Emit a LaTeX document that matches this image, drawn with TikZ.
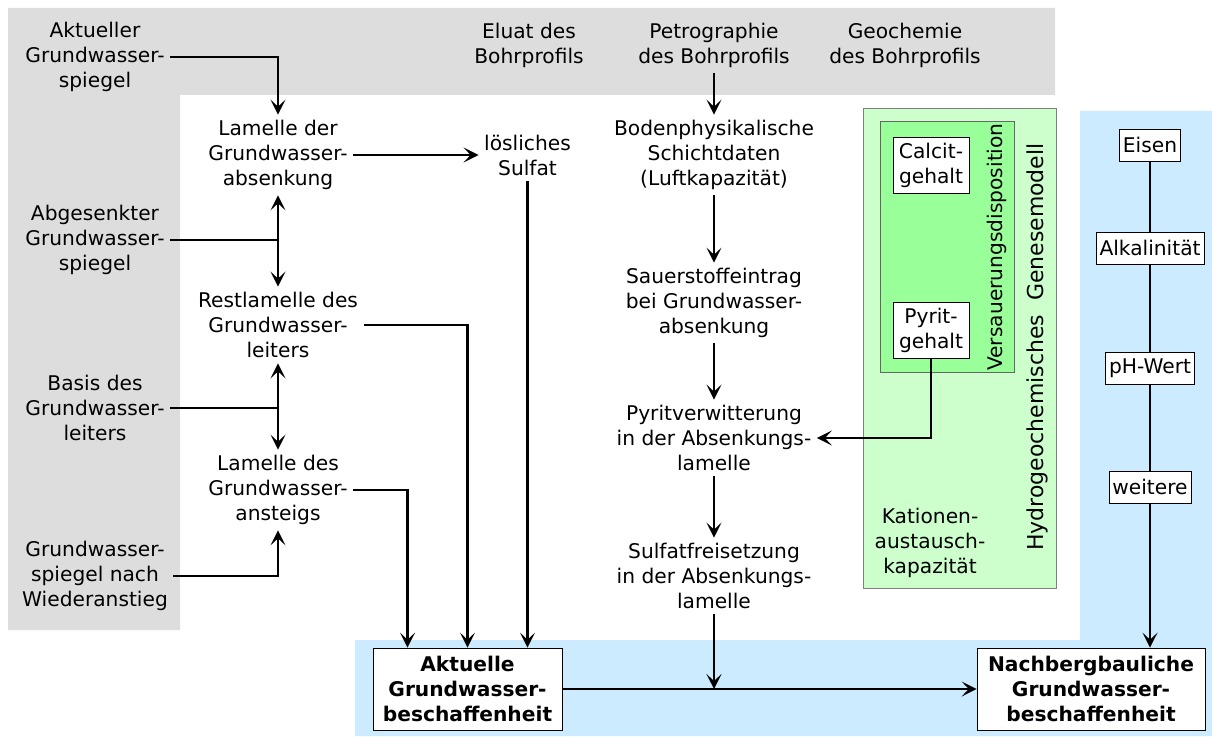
\documentclass[tikz,border=0pt]{standalone}
\usepackage{fontspec}
\setmainfont{DejaVu Sans}
\usetikzlibrary{arrows.meta}
\definecolor{bggray}{RGB}{221,221,221}
\definecolor{bgblue}{RGB}{204,235,255}
\definecolor{lightgreen}{RGB}{204,255,204}
\definecolor{midgreen}{RGB}{153,255,153}

\begin{document}
\begin{tikzpicture}[
    x=0.02cm, y=-0.02cm,
    >={Stealth[length=3mm,width=3mm,inset=1.4mm]},
    every node/.style={font=\fontsize{11.5}{14.2}\selectfont},
    txt/.style={
        align=center,
        inner sep=3pt
    },
    box/.style={
        draw,
        fill=white,
        align=center,
        inner xsep=2pt,
        minimum height=0.64cm
    },
    result/.style={
        draw,
        fill=white,
        align=center,
        font=\fontsize{11.5}{14.2}\selectfont\bfseries,
        minimum height=1.64cm
    },
    arr/.style={
        ->,
        line width=1.3pt
    },
    conn/.style={
        line width=1.3pt
    }
]
    \useasboundingbox (0,0) rectangle (1212,736);

    % backgrounds
    \fill[bggray] (8,8) -- (1055,8) -- (1055,95) -- (180,95)
        -- (180,630) -- (8,630) -- cycle;
    \fill[bgblue] (1080,111) -- (1212,111) -- (1212,736) -- (355,736)
        -- (355,640) -- (1080,640) -- cycle;
    \draw[fill=lightgreen, draw=gray] (863,108) rectangle (1056,588);
    \draw[fill=midgreen, draw=gray!80!black] (880,121) rectangle (1014,372);

    % inputs on the left
    \node[txt] (gwakt) at (95,57) {Aktueller\\Grundwasser-\\spiegel};
    \node[txt] (gwabg) at (95,240) {Abgesenkter\\Grundwasser-\\spiegel};
    \node[txt] (gwbas) at (95,408) {Basis des\\Grundwasser-\\leiters};
    \node[txt] (gwwie) at (95,576) {Grundwasser-\\spiegel nach\\Wiederanstieg};

    % inputs on top
    \node[txt] (eluat) at (529,45) {Eluat des\\Bohrprofils};
    \node[txt] (petro) at (714,45) {Petrographie\\des Bohrprofils};
    \node[txt] (geoch) at (905,45) {Geochemie\\des Bohrprofils};

    % lamellae
    \node[txt] (lamabs) at (278,155) {Lamelle der\\Grundwasser-\\absenkung};
    \node[txt] (lamrest) at (278,325) {Restlamelle des\\Grundwasser-\\leiters};
    \node[txt] (lamans) at (278,490) {Lamelle des\\Grundwasser-\\ansteigs};

    \node[txt] (sulfat) at (527.5,155) {lösliches\\Sulfat};

    % chain of the middle column
    \node[txt] (boden) at (714,155) {Bodenphysikalische\\Schichtdaten\\(Luftkapazität)};
    \node[txt] (sauer) at (714,303) {Sauerstoffeintrag\\bei Grundwasser-\\absenkung};
    \node[txt] (pyritv) at (714,438) {Pyritverwitterung\\in der Absenkungs-\\lamelle};
    \node[txt] (sulfatf) at (714,576) {Sulfatfreisetzung\\in der Absenkungs-\\lamelle};

    % genesis model
    \node[box, minimum width=1.52cm, minimum height=1.12cm] (calcit) at (931,165) {Calcit-\\gehalt};
    \node[box, minimum width=1.52cm, minimum height=1.12cm] (pyrit) at (931,330) {Pyrit-\\gehalt};
    \node[txt, rotate=90] (versauer) at (997,247) {Versauerungsdisposition};
    \node[txt, rotate=90, font=\fontsize{12.5}{15}\selectfont] (genese) at (1037,347)
        {Hydrogeochemisches\ \ Genesemodell};
    \node[txt] (kation) at (930,543) {Kationen-\\austausch-\\kapazität};

    % parameters
    \node[box] (eisen) at (1150,145) {Eisen};
    \node[box] (alkal) at (1150,248) {Alkalinität};
    \node[box] (phwert) at (1150,368) {pH-Wert};
    \node[box] (weitere) at (1150,487) {weitere};

    % results
    \node[result, minimum width=3.78cm] (aktuell) at (467.5,689)
        {Aktuelle\\Grundwasser-\\beschaffenheit};
    \node[result, minimum width=4.56cm] (nachberg) at (1091,689)
        {Nachbergbauliche\\Grundwasser-\\beschaffenheit};

    % connectors
    \coordinate (jabg) at (278,240);
    \coordinate (jbas) at (278,408);
    \draw[arr] (gwakt.east) -| (lamabs.north);
    \draw[conn] (gwabg.east) -- (jabg);
    \draw[arr] (jabg) -- (lamabs.south);
    \draw[arr] (jabg) -- (lamrest.north);
    \draw[conn] (gwbas.east) -- (jbas);
    \draw[arr] (jbas) -- (lamrest.south);
    \draw[arr] (jbas) -- (lamans.north);
    \draw[arr] (gwwie.east) -| (lamans.south);

    \draw[arr] (lamabs.east) -- (sulfat.west);
    \draw[arr] (lamrest.east) -| (aktuell.north);
    \draw[arr] (lamans.east) -| ([xshift=-1.2cm]aktuell.north);
    \draw[arr] (sulfat.south) -- (sulfat.south |- aktuell.north);

    \draw[arr] (petro) -- (boden);
    \draw[arr] (boden) -- (sauer);
    \draw[arr] (sauer) -- (pyritv);
    \draw[arr] (pyritv) -- (sulfatf);
    \draw[arr] (pyrit.south) |- (pyritv.east);

    \draw[arr] (aktuell.east) -- (nachberg.west);
    \draw[arr] (sulfatf.south) -- (sulfatf.south |- aktuell.east);

    \draw[conn] (eisen) -- (alkal);
    \draw[conn] (alkal) -- (phwert);
    \draw[conn] (phwert) -- (weitere);
    \draw[arr] (weitere.south) -- (weitere.south |- nachberg.north);

\end{tikzpicture}
\end{document}
